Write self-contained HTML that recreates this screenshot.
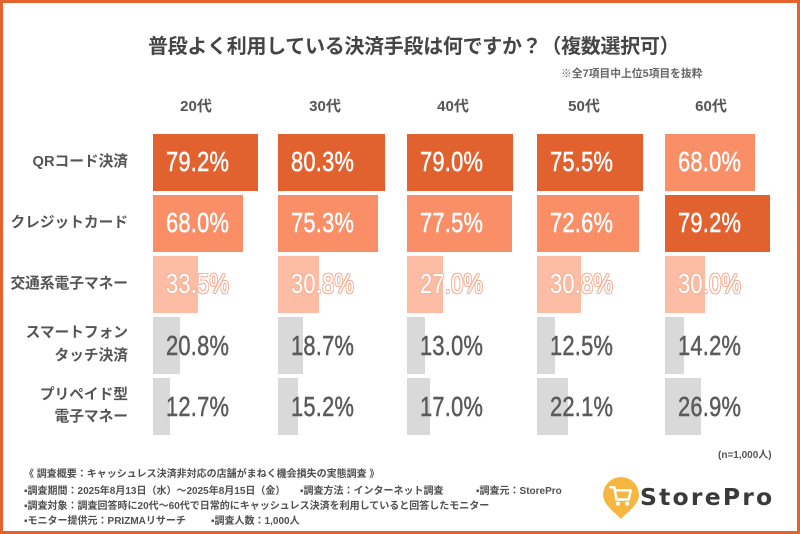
<!DOCTYPE html>
<html><head><meta charset="utf-8">
<style>
*{margin:0;padding:0;box-sizing:border-box}
html,body{width:800px;height:534px;overflow:hidden;background:#fff}
body{position:relative;font-family:"Liberation Sans","Noto Sans CJK JP",sans-serif}
.frame{position:absolute;left:0;top:0;width:800px;height:534px;border:3px solid #E4622C}
.abs{position:absolute;white-space:nowrap}
.title{left:148px;top:34px;font-size:20px;font-weight:bold;color:#454545;letter-spacing:-0.3px;line-height:26px}
.note{left:561px;top:67px;font-size:10.8px;font-weight:bold;color:#666;line-height:14px}
.hdr{font-size:15px;font-weight:bold;color:#555;line-height:18px;width:60px;text-align:center;top:98px}
.lbl{right:672px;font-size:14.7px;font-weight:bold;color:#555;text-align:right;line-height:23px}
.bar{position:absolute;height:57px}
.c1{background:#E2622F}
.c2{background:#FA8E67}
.c3{background:#FCBDA4}
.c4{background:#D9D9D9}
.pct{position:absolute;height:57px;line-height:57px;font-size:28px;transform:scaleX(0.78);transform-origin:0 50%;white-space:nowrap;-webkit-text-stroke:0.5px currentColor;letter-spacing:0.3px}
.w{color:#fff}
.t{color:#fff;-webkit-text-stroke:0;text-shadow:1px 0 0 #F6B29A,-1px 0 0 #F6B29A,0 1px 0 #F6B29A,0 -1px 0 #F6B29A,1px 1px 0 #F6B29A,-1px -1px 0 #F6B29A,1px -1px 0 #F6B29A,-1px 1px 0 #F6B29A}
.g{color:#5a5a5a}
.ft{left:24px;font-size:10px;font-weight:bold;color:#505050;line-height:14px}
</style></head><body>
<div class="frame"></div>

<div class="abs title">普段よく利用している決済手段は何ですか？（複数選択可）</div>
<div class="abs note">※全7項目中上位5項目を抜粋</div>

<div class="abs hdr" style="left:166px">20代</div>
<div class="abs hdr" style="left:295px">30代</div>
<div class="abs hdr" style="left:423px">40代</div>
<div class="abs hdr" style="left:554px">50代</div>
<div class="abs hdr" style="left:681px">60代</div>

<div class="abs lbl" style="top:151px">QRコード決済</div>
<div class="abs lbl" style="top:212px">クレジットカード</div>
<div class="abs lbl" style="top:273px">交通系電子マネー</div>
<div class="abs lbl" style="top:322px">スマートフォン<br>タッチ決済</div>
<div class="abs lbl" style="top:384px;line-height:22px">プリペイド型<br>電子マネー</div>

<!-- 20代 -->
<div class="bar c1" style="left:153px;top:134px;width:105px"></div>
<div class="bar c2" style="left:153px;top:195px;width:90px"></div>
<div class="bar c3" style="left:153px;top:256px;width:45px"></div>
<div class="bar c4" style="left:153px;top:317px;width:27px"></div>
<div class="bar c4" style="left:153px;top:378px;width:17px"></div>
<div class="pct w" style="left:166px;top:133px">79.2%</div>
<div class="pct w" style="left:166px;top:194px">68.0%</div>
<div class="pct t" style="left:166px;top:255px">33.5%</div>
<div class="pct g" style="left:166px;top:317px">20.8%</div>
<div class="pct g" style="left:166px;top:378px">12.7%</div>

<!-- 30代 -->
<div class="bar c1" style="left:278px;top:134px;width:107px"></div>
<div class="bar c2" style="left:278px;top:195px;width:100px"></div>
<div class="bar c3" style="left:278px;top:256px;width:41px"></div>
<div class="bar c4" style="left:278px;top:317px;width:25px"></div>
<div class="bar c4" style="left:278px;top:378px;width:20px"></div>
<div class="pct w" style="left:291px;top:133px">80.3%</div>
<div class="pct w" style="left:291px;top:194px">75.3%</div>
<div class="pct t" style="left:291px;top:255px">30.8%</div>
<div class="pct g" style="left:291px;top:317px">18.7%</div>
<div class="pct g" style="left:291px;top:378px">15.2%</div>

<!-- 40代 -->
<div class="bar c1" style="left:407px;top:134px;width:106px"></div>
<div class="bar c2" style="left:407px;top:195px;width:105px"></div>
<div class="bar c3" style="left:407px;top:256px;width:36px"></div>
<div class="bar c4" style="left:407px;top:317px;width:18px"></div>
<div class="bar c4" style="left:407px;top:378px;width:23px"></div>
<div class="pct w" style="left:420px;top:133px">79.0%</div>
<div class="pct w" style="left:420px;top:194px">77.5%</div>
<div class="pct t" style="left:420px;top:255px">27.0%</div>
<div class="pct g" style="left:420px;top:317px">13.0%</div>
<div class="pct g" style="left:420px;top:378px">17.0%</div>

<!-- 50代 -->
<div class="bar c1" style="left:537px;top:134px;width:106px"></div>
<div class="bar c2" style="left:537px;top:195px;width:102px"></div>
<div class="bar c3" style="left:537px;top:256px;width:44px"></div>
<div class="bar c4" style="left:537px;top:317px;width:18px"></div>
<div class="bar c4" style="left:537px;top:378px;width:31px"></div>
<div class="pct w" style="left:550px;top:133px">75.5%</div>
<div class="pct w" style="left:550px;top:194px">72.6%</div>
<div class="pct t" style="left:550px;top:255px">30.8%</div>
<div class="pct g" style="left:550px;top:317px">12.5%</div>
<div class="pct g" style="left:550px;top:378px">22.1%</div>

<!-- 60代 -->
<div class="bar c2" style="left:665px;top:134px;width:90px"></div>
<div class="bar c1" style="left:665px;top:195px;width:105px"></div>
<div class="bar c3" style="left:665px;top:256px;width:40px"></div>
<div class="bar c4" style="left:665px;top:317px;width:19px"></div>
<div class="bar c4" style="left:665px;top:378px;width:36px"></div>
<div class="pct w" style="left:678px;top:133px">68.0%</div>
<div class="pct w" style="left:678px;top:194px">79.2%</div>
<div class="pct t" style="left:678px;top:255px">30.0%</div>
<div class="pct g" style="left:678px;top:317px">14.2%</div>
<div class="pct g" style="left:678px;top:378px">26.9%</div>

<!-- footer -->
<div class="abs" style="left:718px;top:449px;font-size:10px;font-weight:bold;color:#555;line-height:14px">(n=1,000人)</div>
<div class="abs ft" style="top:468px">《 調査概要：キャッシュレス決済非対応の店舗がまねく機会損失の実態調査 》</div>
<div class="abs ft" style="top:485px">▪調査期間：2025年8月13日（水）～2025年8月15日（金）</div>
<div class="abs ft" style="top:485px;left:300px">▪調査方法：インターネット調査</div>
<div class="abs ft" style="top:485px;left:476px">▪調査元：StorePro</div>
<div class="abs ft" style="top:500px">▪調査対象：調査回答時に20代～60代で日常的にキャッシュレス決済を利用していると回答したモニター</div>
<div class="abs ft" style="top:515px">▪モニター提供元：PRIZMAリサーチ</div>
<div class="abs ft" style="top:515px;left:211px">▪調査人数：1,000人</div>

<svg class="abs" style="left:603px;top:477px" width="36" height="42" viewBox="0 0 35 41">
<path d="M17.5 0 A17.5 17.5 0 0 1 35 17.5 C35 27 24 34 17.5 41 C11 34 0 27 0 17.5 A17.5 17.5 0 0 1 17.5 0Z" fill="#F5B740"/>
<path d="M7 10 H11 L13 22 H25 L27 13 H12" fill="none" stroke="#fff" stroke-width="2.4" stroke-linejoin="round" stroke-linecap="round"/>
<circle cx="14.5" cy="26" r="2" fill="#fff"/>
<circle cx="23.5" cy="26" r="2" fill="#fff"/>
</svg>
<div class="abs" style="left:640px;top:483px;font-family:'DejaVu Sans',sans-serif;font-weight:bold;font-size:23.5px;letter-spacing:2.2px;color:#3a3a3a;line-height:28px">StorePro</div>
</body></html>
